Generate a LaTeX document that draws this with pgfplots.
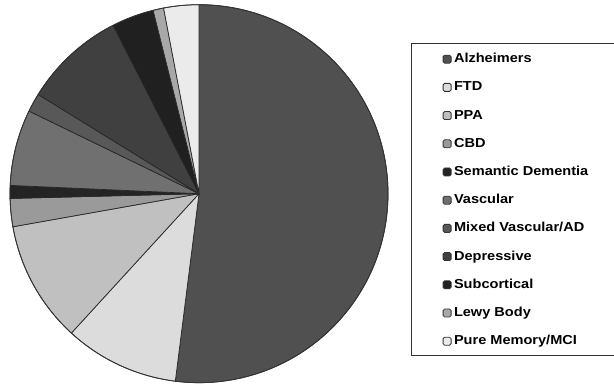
\documentclass[border=0pt]{standalone}
\usepackage{fontspec}
\setmainfont{Liberation Sans}
\usepackage{graphicx}
\usepackage{pgfplots}
\usepackage{pgfplotstable}
\pgfplotsset{compat=1.18}

\definecolor{c0}{HTML}{505050}
\definecolor{c1}{HTML}{DCDCDC}
\definecolor{c2}{HTML}{C0C0C0}
\definecolor{c3}{HTML}{9A9A9A}
\definecolor{c4}{HTML}{242424}
\definecolor{c5}{HTML}{707070}
\definecolor{c6}{HTML}{585858}
\definecolor{c7}{HTML}{404040}
\definecolor{c8}{HTML}{202020}
\definecolor{c9}{HTML}{A8A8A8}
\definecolor{c10}{HTML}{EBEBEB}

\pgfplotstableread[col sep=comma]{
label,value
Alzheimers,52.0
FTD,9.8
PPA,10.4
CBD,2.4
Semantic Dementia,1.1
Vascular,6.5
Mixed Vascular/AD,1.6
Depressive,8.7
Subcortical,3.6
Lewy Body,0.9
Pure Memory/MCI,3.0
}\piedata
\pgfplotstablecreatecol[create col/expr accum={\pgfmathaccuma + \thisrow{value}}{0}]{cum}\piedata

\begin{document}
\begin{tikzpicture}
\begin{axis}[
  scale only axis, width=614bp, height=387bp,
  xmin=0, xmax=614, ymin=0, ymax=387,
  hide axis, clip=false,
  legend cell align=left,
  legend style={at={(axis cs:442.5,334)}, anchor=north west, draw=none, fill=none,
    inner sep=0pt, row sep=16.2bp, column sep=2.5bp,
    nodes={inner sep=0pt, text height=9.5bp, text depth=2.5bp},
    font=\fontsize{13bp}{15bp}\selectfont\bfseries},
]
\pgfplotsinvokeforeach{0,...,10}{
  \pgfplotsextra{%
    \pgfplotstablegetelem{#1}{value}\of\piedata \let\v\pgfplotsretval
    \pgfplotstablegetelem{#1}{cum}\of\piedata \let\c\pgfplotsretval
    \pgfmathsetmacro\ea{90-3.6*\c}%
    \pgfmathsetmacro\sa{90-3.6*(\c-\v)}%
    \fill[c#1, draw=black!85, line width=0.7bp, line join=round]
      (axis cs:199,193.3) -- ++(\sa:189bp) arc[start angle=\sa, end angle=\ea, radius=189bp] -- cycle;
  }
  \addlegendimage{legend image code/.code={\draw[draw=black!80, fill=c#1, rounded corners=1.5bp, line width=0.8bp] (0bp,-4bp) rectangle (8bp,4bp);}}
  \pgfplotstablegetelem{#1}{label}\of\piedata
  \addlegendentryexpanded{\noexpand\scalebox{1.12}[1]{\pgfplotsretval}}
}
\draw[black!80, line width=0.8bp] (axis cs:199,193.3) circle[radius=189bp];
\draw[black!80, line width=0.9bp] (axis cs:614,343.7) -- (axis cs:411,343.7);
\draw[black!80, line width=0.9bp, line cap=rect] (axis cs:411,343.7) -- (axis cs:411,31.3);
\draw[black!80, line width=0.9bp] (axis cs:411,31.3) -- (axis cs:614,31.3);
\end{axis}
\pgfresetboundingbox
\path (current axis.south west) rectangle (current axis.north east);
\end{tikzpicture}
\end{document}
